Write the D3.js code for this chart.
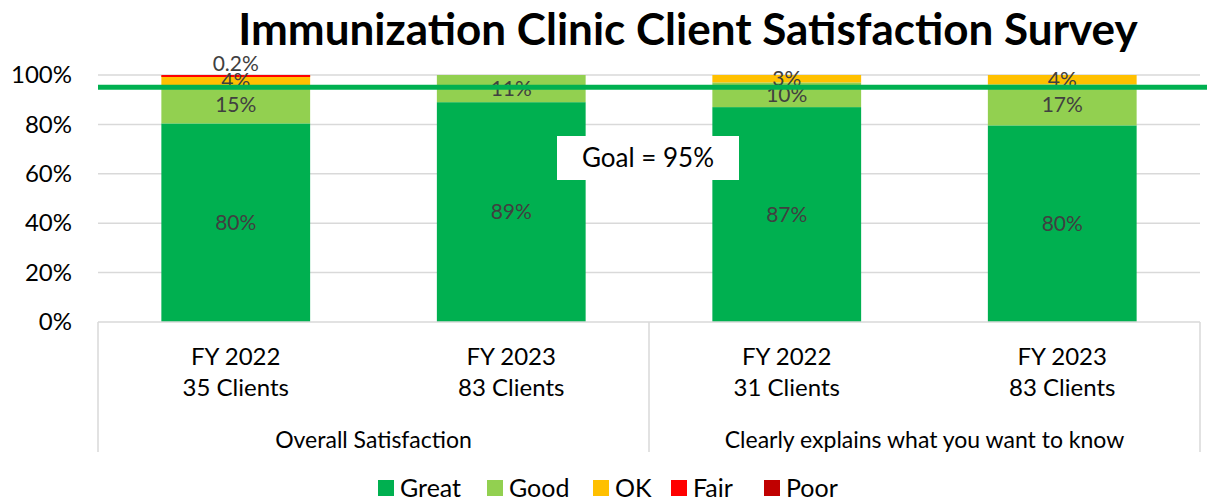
<!DOCTYPE html>
<html>
<head>
<meta charset="utf-8">
<script src="https://cdn.jsdelivr.net/npm/d3@7"></script>
<style>
  body { margin: 0; background: #fff; }
  svg { font-family: Lato, "Open Sans", sans-serif; }
</style>
</head>
<body>
<svg id="chart" width="1207" height="504"></svg>
<script>
// chart data
var bars = ["FY 2022|35 Clients", "FY 2023|83 Clients", "FY 2022|31 Clients", "FY 2023|83 Clients"];
var groups = ["Overall Satisfaction", "Clearly explains what you want to know"];
var ratings = ["Great", "Good", "OK", "Fair", "Poor"];
var great = [80.4, 89, 87, 79.6];
var good = [15.2, 11, 10, 16.6];
var ok = [4.2, 0, 3, 3.8];
var fair = [0.2, 0, 0, 0];
var poor = [0, 0, 0, 0];
var goal = 95;
var yTicks = [0, 20, 40, 60, 80, 100];

var colours = {
    Great: "#00B050",
    Good: "#92D050",
    OK: "#FFC000",
    Fair: "#FF0000",
    Poor: "#C00000"
};

var svg = d3.select("#chart");
var margin = { left: 98, top: 75, plotBottom: 322 };
var plotRight = 1200;

var rows = bars.map(function (b, i) {
    return { key: i, label: b, Great: great[i], Good: good[i], OK: ok[i], Fair: fair[i], Poor: poor[i] };
});

var x = d3.scaleBand()
    .domain(rows.map(function (d) { return d.key; }))
    .range([margin.left, plotRight])
    .paddingInner(0.46)
    .paddingOuter(0.23);

var y = d3.scaleLinear().domain([0, 100]).range([margin.plotBottom, margin.top]);

// title
svg.append("text")
    .attr("x", 688).attr("y", 45)
    .attr("text-anchor", "middle")
    .attr("font-weight", "bold")
    .attr("font-size", 44)
    .attr("fill", "#000")
    .text("Immunization Clinic Client Satisfaction Survey");

// gridlines
svg.append("g").selectAll("line")
    .data(yTicks.slice(1))
    .enter().append("line")
    .attr("x1", margin.left).attr("x2", plotRight)
    .attr("y1", function (d) { return y(d); })
    .attr("y2", function (d) { return y(d); })
    .attr("stroke", "#D9D9D9")
    .attr("stroke-width", 1.5);

// y axis labels
var yAxis = d3.axisLeft(y).tickValues(yTicks).tickFormat(function (d) { return d + "%"; }).tickSize(0).tickPadding(26);
var yg = svg.append("g").attr("transform", "translate(" + margin.left + ",0)").call(yAxis);
yg.select(".domain").remove();
yg.selectAll("text").attr("font-size", 24).attr("fill", "#000").attr("font-family", "Lato, sans-serif");

// stacked bars (tiny segments get a minimum visible thickness, as in the original)
var series = d3.stack().keys(ratings)(rows);
var layer = svg.append("g").selectAll("g")
    .data(series)
    .enter().append("g")
    .attr("fill", function (d) { return colours[d.key]; });

layer.selectAll("rect")
    .data(function (d) { return d.filter(function (s) { return s[1] - s[0] > 0; }); })
    .enter().append("rect")
    .attr("x", function (d) { return x(d.data.key); })
    .attr("width", x.bandwidth())
    .attr("y", function (d) { return y(d[1]); })
    .attr("height", function (d) { return Math.max(2, y(d[0]) - y(d[1])); });

// data labels
var labels = [];
series.forEach(function (s) {
    s.forEach(function (d) {
        var v = d[1] - d[0];
        if (v <= 0) return;
        labels.push({ key: d.data.key, v: v, mid: (d[0] + d[1]) / 2 });
    });
});
svg.append("g").selectAll("text")
    .data(labels)
    .enter().append("text")
    .attr("x", function (d) { return x(d.key) + x.bandwidth() / 2; })
    .attr("y", function (d) { return d.v < 1 ? y(100) - 11 : y(d.mid); })
    .attr("dy", "0.35em")
    .attr("text-anchor", "middle")
    .attr("font-size", 21)
    .attr("fill", "#404040")
    .text(function (d) { return d.v < 1 ? d3.format(".1f")(d.v) + "%" : Math.round(d.v) + "%"; });

// goal line
svg.append("line")
    .attr("x1", margin.left).attr("x2", 1207)
    .attr("y1", y(goal)).attr("y2", y(goal))
    .attr("stroke", "#00B050")
    .attr("stroke-width", 5);

var goalBox = svg.append("g").attr("transform", "translate(" + 648 + "," + 158 + ")");
goalBox.append("rect")
    .attr("x", -91).attr("y", -22).attr("width", 182).attr("height", 44)
    .attr("fill", "#fff");
goalBox.append("text")
    .attr("text-anchor", "middle").attr("dy", "0.35em")
    .attr("font-size", 26).attr("fill", "#000")
    .text("Goal = " + goal + "%");

// category axis: bottom line and separators
var axisG = svg.append("g");
axisG.append("line")
    .attr("x1", margin.left).attr("x2", plotRight)
    .attr("y1", margin.plotBottom).attr("y2", margin.plotBottom)
    .attr("stroke", "#D9D9D9").attr("stroke-width", 1.5);
var sepX = [margin.left, (x(1) + x.bandwidth() + x(2)) / 2, plotRight];
axisG.selectAll(".sep")
    .data(sepX)
    .enter().append("line")
    .attr("x1", function (d) { return d; }).attr("x2", function (d) { return d; })
    .attr("y1", margin.plotBottom).attr("y2", 452)
    .attr("stroke", "#D9D9D9").attr("stroke-width", 1.5);

axisG.selectAll(".cat")
    .data(rows)
    .enter().append("text")
    .attr("text-anchor", "middle")
    .attr("font-size", 24).attr("fill", "#000")
    .each(function (d) {
        var parts = d.label.split("|");
        var t = d3.select(this);
        parts.forEach(function (p, i) {
            t.append("tspan")
                .attr("x", x(d.key) + x.bandwidth() / 2)
                .attr("y", 365 + i * 31)
                .text(p);
        });
    });

axisG.selectAll(".grp")
    .data(groups)
    .enter().append("text")
    .attr("x", function (d, i) { return (sepX[i] + sepX[i + 1]) / 2; })
    .attr("y", 448)
    .attr("text-anchor", "middle")
    .attr("font-size", 23).attr("fill", "#000")
    .text(function (d) { return d; });

// legend
var legendX = [378, 487, 593, 671, 764];
var legend = svg.append("g").selectAll("g")
    .data(ratings)
    .enter().append("g")
    .attr("transform", function (d, i) { return "translate(" + legendX[i] + ",480)"; });
legend.append("rect")
    .attr("width", 16).attr("height", 16)
    .attr("fill", function (d) { return colours[d]; });
legend.append("text")
    .attr("x", 22).attr("y", 8).attr("dy", "0.35em")
    .attr("font-size", 25).attr("fill", "#000")
    .text(function (d) { return d; });
</script>
</body>
</html>
